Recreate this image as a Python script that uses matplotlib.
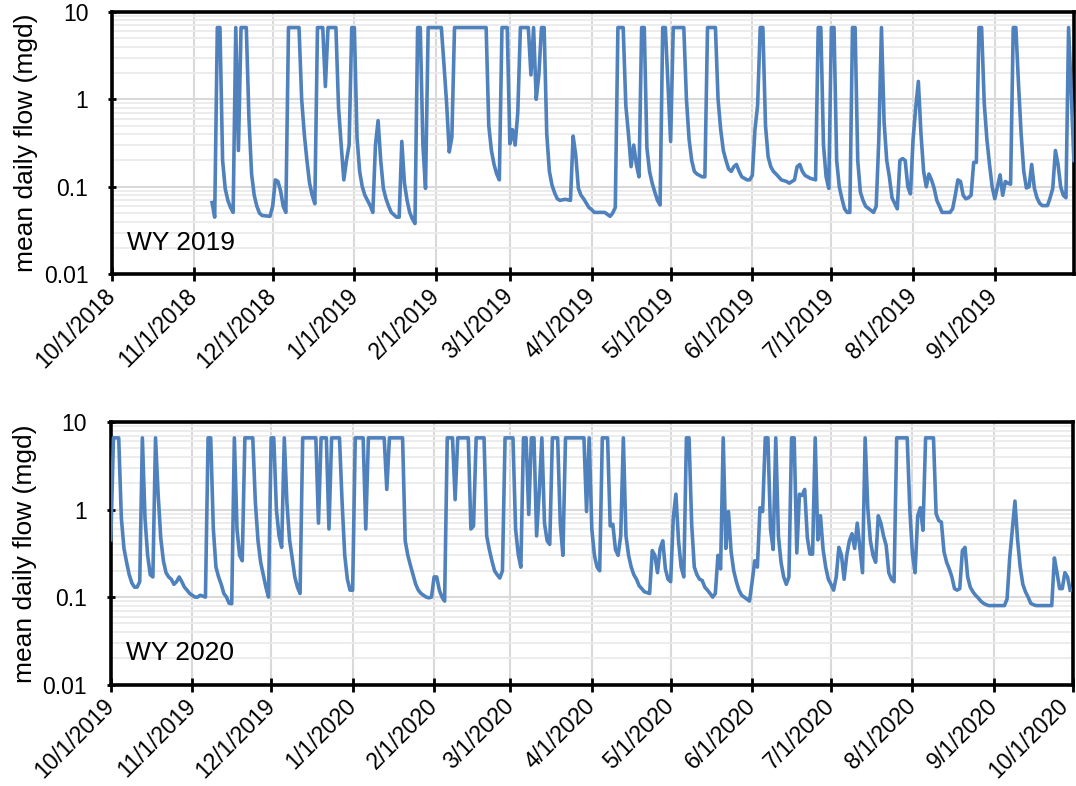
import matplotlib
matplotlib.use('Agg')
import matplotlib.pyplot as plt
import matplotlib.dates as mdates
from matplotlib.ticker import LogLocator, FixedLocator, FuncFormatter, NullFormatter
from matplotlib.transforms import ScaledTranslation
import pandas as pd

plt.rcParams['font.family'] = ['Liberation Sans', 'DejaVu Sans']

# mean daily flow (mgd), vertices; day = days since start of water year
wy19_day = [38, 39, 40, 41, 42, 43, 44, 45, 46, 47, 48, 49, 51, 52, 53, 54, 55, 56, 57, 60,
            61, 62, 63, 64, 65, 66, 67, 71, 72, 73, 74, 75, 76, 77, 78, 80, 81, 82, 85, 86,
            87, 88, 89, 90, 91, 92, 93, 94, 95, 96, 97, 98, 99, 100, 101, 102, 103, 104, 105, 106,
            107, 108, 109, 110, 111, 112, 113, 114, 115, 116, 117, 118, 119, 120, 125, 126, 127, 128, 129, 130,
            142, 143, 144, 145, 146, 147, 148, 150, 151, 152, 153, 154, 155, 158, 159, 160, 161, 162, 163, 164,
            165, 166, 167, 168, 169, 170, 172, 174, 175, 176, 177, 178, 179, 180, 181, 182, 183, 187, 189, 190,
            191, 192, 194, 195, 196, 197, 198, 199, 200, 201, 202, 203, 204, 205, 206, 207, 208, 209, 210, 211,
            212, 213, 217, 218, 219, 220, 221, 222, 223, 224, 225, 226, 229, 230, 231, 232, 233, 234, 235, 236,
            237, 238, 239, 240, 241, 242, 243, 244, 245, 246, 247, 248, 249, 250, 251, 252, 253, 254, 256, 257,
            258, 259, 260, 261, 262, 263, 264, 265, 267, 268, 269, 270, 271, 272, 273, 274, 275, 276, 277, 278,
            279, 280, 281, 282, 283, 284, 285, 286, 289, 290, 291, 292, 293, 294, 295, 296, 297, 298, 299, 300,
            301, 302, 303, 304, 305, 306, 307, 308, 309, 310, 311, 312, 313, 314, 315, 318, 319, 320, 321, 322,
            323, 324, 325, 326, 327, 328, 329, 330, 331, 332, 333, 334, 335, 336, 337, 338, 339, 340, 341, 342,
            343, 344, 345, 346, 347, 348, 349, 350, 351, 352, 353, 355, 356, 357, 358, 359, 360, 361, 362, 363,
            364, 365]
wy19_flow = [0.066, 0.045, 6.6, 6.6, 0.2, 0.095, 0.07, 0.058, 0.051, 6.6, 0.26, 6.6, 6.6, 0.6, 0.14, 0.08, 0.06, 0.05, 0.047, 0.046,
             0.06, 0.12, 0.115, 0.09, 0.06, 0.051, 6.6, 6.6, 1.0, 0.4, 0.2, 0.11, 0.08, 0.064, 6.6, 6.6, 1.4, 6.6, 6.6, 0.8,
             0.3, 0.12, 0.2, 0.3, 6.6, 6.6, 0.37, 0.15, 0.1, 0.08, 0.07, 0.061, 0.051, 0.3, 0.57, 0.2, 0.096, 0.073, 0.06, 0.051,
             0.048, 0.045, 0.045, 0.33, 0.11, 0.07, 0.051, 0.043, 0.038, 6.6, 6.6, 0.3, 0.096, 6.6, 6.6, 2.5, 0.9, 0.25, 0.37, 6.6,
             6.6, 0.5, 0.26, 0.18, 0.14, 0.12, 6.6, 6.6, 0.31, 0.45, 0.3, 0.7, 6.6, 6.6, 1.9, 6.6, 1.0, 1.9, 6.6, 6.6,
             0.4, 0.15, 0.104, 0.085, 0.073, 0.07, 0.072, 0.07, 0.38, 0.23, 0.096, 0.08, 0.073, 0.065, 0.058, 0.055, 0.051, 0.051, 0.046, 0.05,
             0.058, 6.6, 6.6, 0.85, 0.4, 0.17, 0.3, 0.18, 0.13, 6.6, 6.6, 0.28, 0.15, 0.11, 0.087, 0.07, 0.062, 6.6, 6.6, 1.5,
             0.33, 6.6, 6.6, 1.0, 0.35, 0.2, 0.15, 0.14, 0.135, 0.13, 0.13, 6.6, 6.6, 1.0, 0.45, 0.26, 0.2, 0.16, 0.15, 0.17,
             0.18, 0.15, 0.13, 0.125, 0.12, 0.12, 0.135, 0.45, 0.85, 6.6, 6.6, 0.5, 0.22, 0.17, 0.15, 0.14, 0.13, 0.12, 0.115, 0.11,
             0.115, 0.12, 0.17, 0.18, 0.15, 0.135, 0.13, 0.125, 0.12, 6.6, 6.6, 0.3, 0.13, 0.096, 6.6, 6.6, 0.2, 0.1, 0.073, 0.056,
             0.051, 0.051, 6.6, 6.6, 0.2, 0.087, 0.07, 0.06, 0.051, 0.06, 0.35, 6.6, 0.55, 0.2, 0.13, 0.075, 0.065, 0.056, 0.2, 0.21,
             0.2, 0.1, 0.083, 0.35, 0.8, 1.6, 0.4, 0.15, 0.1, 0.14, 0.12, 0.096, 0.07, 0.06, 0.051, 0.051, 0.056, 0.08, 0.12, 0.115,
             0.08, 0.073, 0.075, 0.08, 0.19, 0.19, 6.6, 6.6, 0.9, 0.35, 0.18, 0.1, 0.073, 0.1, 0.137, 0.08, 0.115, 0.11, 0.107, 6.6,
             6.6, 1.5, 0.4, 0.15, 0.097, 0.1, 0.18, 0.097, 0.075, 0.065, 0.061, 0.061, 0.075, 0.096, 0.26, 0.18, 0.1, 0.08, 0.075, 6.6,
             1.2, 0.2]

wy20_day = [0, 1, 3, 4, 5, 6, 7, 8, 9, 10, 11, 12, 13, 14, 15, 16, 17, 18, 19, 20,
            21, 22, 23, 24, 25, 26, 27, 28, 29, 30, 31, 32, 33, 34, 36, 37, 38, 39, 40, 41,
            42, 43, 44, 45, 46, 47, 48, 49, 50, 51, 54, 55, 56, 57, 58, 59, 60, 61, 62, 63,
            64, 65, 66, 67, 68, 69, 70, 71, 72, 73, 78, 79, 80, 82, 83, 84, 87, 88, 89, 90,
            91, 92, 93, 96, 97, 98, 104, 105, 106, 111, 112, 113, 114, 115, 116, 117, 118, 119, 120, 121,
            122, 123, 124, 125, 126, 127, 128, 130, 131, 132, 136, 137, 138, 139, 142, 143, 144, 145, 146, 147,
            148, 149, 150, 153, 154, 155, 156, 157, 158, 159, 160, 161, 162, 163, 164, 165, 166, 167, 168, 170,
            171, 172, 173, 180, 181, 182, 183, 184, 185, 186, 187, 189, 190, 191, 192, 193, 194, 195, 196, 197,
            198, 199, 200, 201, 202, 203, 205, 206, 207, 208, 209, 210, 211, 212, 213, 214, 215, 216, 217, 218,
            219, 220, 221, 222, 223, 224, 225, 226, 227, 228, 229, 230, 231, 232, 233, 234, 235, 236, 237, 238,
            239, 240, 241, 242, 243, 244, 245, 246, 247, 248, 249, 250, 251, 252, 253, 254, 255, 256, 257, 258,
            259, 260, 261, 262, 263, 264, 265, 266, 267, 268, 269, 270, 271, 272, 273, 274, 275, 276, 277, 278,
            279, 280, 281, 282, 283, 284, 285, 286, 287, 288, 289, 290, 291, 292, 293, 294, 295, 296, 297, 298,
            299, 303, 304, 305, 306, 307, 308, 309, 310, 313, 314, 315, 316, 317, 318, 319, 320, 321, 322, 323,
            324, 325, 326, 327, 328, 329, 330, 331, 332, 333, 334, 340, 341, 342, 343, 344, 345, 346, 347, 348,
            349, 350, 351, 352, 358, 359, 360, 361, 362, 363, 364, 365]
wy20_flow = [0.45, 6.6, 6.6, 0.8, 0.36, 0.25, 0.18, 0.145, 0.13, 0.13, 0.15, 6.6, 0.8, 0.3, 0.18, 0.17, 6.6, 1.5, 0.47, 0.26,
             0.19, 0.17, 0.16, 0.14, 0.15, 0.17, 0.15, 0.13, 0.12, 0.11, 0.105, 0.1, 0.1, 0.105, 0.1, 6.6, 6.6, 0.6, 0.22, 0.17,
             0.14, 0.11, 0.1, 0.085, 0.084, 6.6, 0.6, 0.3, 0.26, 6.6, 6.6, 1.2, 0.44, 0.25, 0.18, 0.13, 0.1, 6.6, 6.6, 1.0,
             0.5, 0.37, 6.6, 1.2, 0.45, 0.28, 0.17, 0.13, 0.11, 6.6, 6.6, 0.7, 6.6, 6.6, 0.6, 6.6, 6.6, 1.2, 0.3, 0.16,
             0.12, 0.12, 6.6, 6.6, 0.6, 6.6, 6.6, 1.7, 6.6, 6.6, 0.44, 0.3, 0.23, 0.18, 0.14, 0.12, 0.11, 0.105, 0.1, 0.098,
             0.1, 0.17, 0.17, 0.12, 0.1, 0.09, 6.6, 6.6, 1.3, 6.6, 6.6, 0.6, 0.65, 6.6, 6.6, 0.5, 0.35, 0.26, 0.2, 0.18,
             0.165, 0.2, 6.6, 6.6, 0.6, 0.31, 0.22, 6.6, 6.6, 0.88, 6.6, 6.6, 0.5, 1.6, 6.6, 0.7, 0.44, 0.4, 6.6, 6.6,
             0.7, 0.3, 6.6, 6.6, 0.95, 6.6, 0.6, 0.3, 0.22, 0.2, 6.6, 6.6, 0.65, 0.68, 0.35, 0.3, 0.5, 6.6, 0.5, 0.3,
             0.22, 0.18, 0.16, 0.135, 0.125, 0.115, 0.11, 0.34, 0.3, 0.19, 0.36, 0.44, 0.21, 0.16, 0.15, 0.8, 1.5, 0.44, 0.22, 0.17,
             6.6, 6.6, 0.68, 0.22, 0.18, 0.16, 0.155, 0.13, 0.12, 0.11, 0.1, 0.11, 0.3, 0.21, 6.6, 0.36, 0.95, 0.33, 0.2, 0.15,
             0.12, 0.105, 0.1, 0.095, 0.09, 0.15, 0.26, 0.22, 1.05, 0.95, 6.6, 6.6, 0.6, 0.35, 6.6, 0.5, 0.25, 0.17, 0.14, 0.17,
             6.6, 6.6, 0.32, 1.5, 1.45, 1.7, 0.48, 0.31, 0.31, 6.6, 0.45, 0.85, 0.35, 0.22, 0.16, 0.14, 0.12, 0.17, 0.37, 0.3,
             0.16, 0.3, 0.44, 0.53, 0.36, 0.7, 0.36, 0.19, 6.6, 1.05, 0.44, 0.3, 0.25, 0.85, 0.7, 0.5, 0.39, 0.19, 0.16, 0.15,
             6.6, 6.6, 1.0, 0.31, 0.19, 0.85, 1.05, 0.58, 6.6, 6.6, 0.9, 0.75, 0.72, 0.33, 0.25, 0.21, 0.17, 0.125, 0.12, 0.125,
             0.34, 0.37, 0.17, 0.13, 0.115, 0.105, 0.098, 0.09, 0.085, 0.082, 0.08, 0.08, 0.095, 0.28, 0.6, 1.25, 0.45, 0.22, 0.14, 0.115,
             0.1, 0.085, 0.082, 0.08, 0.08, 0.28, 0.19, 0.125, 0.125, 0.19, 0.17, 0.12]

panels = [('2018-10-01', '2019-10-01', wy19_day, wy19_flow, 'WY 2019', False),
          ('2019-10-01', '2020-10-01', wy20_day, wy20_flow, 'WY 2020', True)]

fig = plt.figure(figsize=(10.76, 7.86), dpi=100)
axes = [fig.add_axes([0.104, 0.651, 0.894, 0.334]),
        fig.add_axes([0.103, 0.129, 0.894, 0.334])]

for ax, (start, end, days, flow, label, last_tick) in zip(axes, panels):
    t0 = pd.Timestamp(start)
    x = t0 + pd.to_timedelta(days, unit='D')
    ax.plot(x, flow, color='#4F81BD', lw=2.6, solid_joinstyle='round', zorder=3)

    ax.set_yscale('log')
    ax.set_ylim(0.01, 10)
    ax.set_xlim(t0, pd.Timestamp(end))

    months = pd.date_range(start, end, freq='MS')
    if not last_tick:
        months = months[:-1]
    ax.xaxis.set_major_locator(FixedLocator(mdates.date2num(months)))
    ax.xaxis.set_major_formatter(FuncFormatter(
        lambda v, pos: (lambda d: f'{d.month}/{d.day}/{d.year}')(mdates.num2date(v))))

    ax.yaxis.set_major_locator(FixedLocator([0.01, 0.1, 1, 10]))
    ax.yaxis.set_major_formatter(FuncFormatter(lambda v, pos: f'{v:g}'))
    ax.yaxis.set_minor_locator(LogLocator(base=10, subs=range(2, 10)))
    ax.yaxis.set_minor_formatter(NullFormatter())

    ax.grid(True, which='major', color='#D9D9D9', lw=1.5, zorder=0)
    ax.grid(True, which='minor', axis='y', color='#EBEBEB', lw=1.3, zorder=0)
    ax.set_axisbelow(True)

    for s in ax.spines.values():
        s.set_linewidth(2.6)
        s.set_color('black')
    ax.tick_params(axis='x', which='major', direction='inout', length=10, width=2,
                   labelsize=16.5, pad=8)
    ax.tick_params(axis='y', which='major', direction='inout', length=6, width=2,
                   labelsize=16.5, pad=14)
    ax.tick_params(axis='y', which='minor', length=0)
    xlabels = ax.get_xticklabels()
    for lab in xlabels:
        lab.set_rotation(45)
        lab.set_ha('right')
        lab.set_va('center')
        lab.set_rotation_mode('anchor')
    if last_tick:
        # nudge the 10/1 label at the right edge so it stays inside the figure
        xlabels[-1].set_transform(xlabels[-1].get_transform()
                                  + ScaledTranslation(-8 / 100, 0, fig.dpi_scale_trans))

    ax.set_ylabel('mean daily flow (mgd)', fontsize=19, labelpad=4)
    ax.text(0.016, 0.075, label, transform=ax.transAxes, fontsize=19, va='bottom', ha='left')

fig.savefig('out.png', dpi=100)
